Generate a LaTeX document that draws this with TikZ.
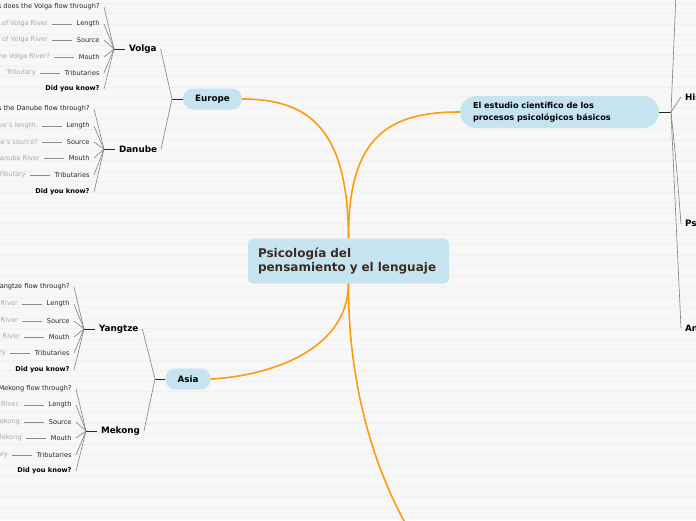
\documentclass[tikz,border=0pt]{standalone}
\usepackage{xcolor}
\usepackage{fontspec}
\setmainfont{DejaVu Sans}
\definecolor{pillblue}{HTML}{C5E4F0}
\definecolor{branchorange}{HTML}{FF9A0F}
\definecolor{paper}{HTML}{F7F7F7}
\definecolor{stripegray}{HTML}{F0F0F0}
\definecolor{titlebrown}{HTML}{3D2B1F}
\definecolor{notegray}{HTML}{A8A8A8}
\usepackage{tikz}
\usetikzlibrary{positioning}

\tikzset{
    mainnode/.style={fill=pillblue, rounded corners=5pt, text width=181pt, align=left,
        inner xsep=10pt, inner ysep=0pt, minimum height=45pt, text=titlebrown,
        font=\fontsize{12}{14}\selectfont\bfseries},
    topicnode/.style={fill=pillblue, rounded corners=10pt, inner xsep=12pt, inner ysep=0pt,
        minimum height=21pt, font=\fontsize{8.8}{10}\selectfont\bfseries},
    widetopic/.style={fill=pillblue, rounded corners=16pt, text width=173pt, align=left,
        inner xsep=13pt, inner ysep=0pt, minimum height=32pt,
        font=\fontsize{8.2}{11.5}\selectfont\bfseries},
    rivernode/.style={inner xsep=4pt, inner ysep=1pt, outer sep=0pt,
        font=\fontsize{8.8}{10}\selectfont\bfseries},
    leafnode/.style={inner xsep=4.5pt, inner ysep=1pt, outer sep=0pt, text=black!85,
        font=\fontsize{6.6}{8}\selectfont},
    dimnote/.style={leafnode, text=notegray},
    knownode/.style={leafnode, text=black, font=\fontsize{6.6}{8}\selectfont\bfseries},
    orangeline/.style={draw=branchorange, line width=1.6pt},
    fanline/.style={draw=black!50, line width=0.6pt},
    hubline/.style={draw=black!85, line width=0.9pt},
    noteline/.style={draw=black!45, line width=0.6pt},
    stripe/.style={draw=stripegray, line width=0.8pt}
}

\begin{document}
\begin{tikzpicture}[x=1pt, y=-1pt]
    \useasboundingbox (0, 0) rectangle (696, 520);
    \clip (0, 0) rectangle (696, 520);
    \fill[paper] (0, 0) rectangle (696, 520);
    \foreach \yy in {3, 13.5, ..., 520}
        \draw[stripe] (0, \yy) -- (696, \yy);

    % centre and main topics
    \node[mainnode] (main) at (348.5, 261) {Psicología del\\pensamiento y el lenguaje};
    \node[topicnode] (europe) at (212.5, 99) {Europe};
    \node[topicnode] (asia) at (188, 379) {Asia};
    \node[widetopic] (estudio) at (559.5, 112) {El estudio científico de los\\procesos psicológicos básicos};
    \coordinate (below) at (415, 540);

    \draw[orangeline] (main.north) .. controls (348, 130) and (310, 99) .. (europe.east);
    \draw[orangeline] (main.north) .. controls (348, 135) and (390, 112) .. (estudio.west);
    \draw[orangeline] (main.south) .. controls (348, 350) and (270, 376) .. (asia.east);
    \draw[orangeline] (main.south) .. controls (348, 380) and (372, 470) .. (below);

    % right side
    \coordinate (estudiohub) at (671, 112);
    \coordinate (uptop) at (677, -30);
    \node[rivernode, anchor=west] (historia) at (681, 97) {Historia};
    \node[rivernode, anchor=west] (psico) at (681, 224) {Psicología};
    \node[rivernode, anchor=west] (antec) at (681, 328) {Antecedentes};
    \draw[hubline] (estudio.east) -- (estudiohub);
    \draw[fanline] (estudiohub) -- (uptop);
    \draw[fanline] (estudiohub) -- (historia.west);
    \draw[fanline] (estudiohub) .. controls (676, 160) .. (psico.west);
    \draw[fanline] (estudiohub) -- (antec.west);

    % Europe
    \coordinate (europehub) at (172, 99);
    \coordinate (volgahub) at (114, 49);
    \coordinate (danubehub) at (104, 149);
    \node[rivernode, right=11pt of volgahub] (volga) {Volga};
    \node[rivernode, right=11pt of danubehub] (danube) {Danube};
    \draw[hubline] (europe.west) -- (europehub);
    \draw[fanline] (europehub) -- (volga.east);
    \draw[fanline] (europehub) -- (danube.east);
    \draw[hubline] (volgahub) -- (volga.west);
    \draw[hubline] (danubehub) -- (danube.west);

    \node[leafnode, anchor=east] (volgaq) at (104, 7) {Which countries does the Volga flow through?};
    \foreach \y/\lab/\txt [count=\k] in {24/Length/{Length of Volga River},
            40/Source/{Source of Volga River},
            57/Mouth/{Where is the mouth of the Volga River?},
            73/Tributaries/{Tributary}} {
        \node[leafnode, anchor=east] (volga\k) at (104, \y) {\lab};
        \node[dimnote, left=20pt of volga\k] (volgan\k) {\txt};
        \draw[noteline] (volga\k) -- (volgan\k);
    }
    \node[knownode, anchor=east] (volga5) at (104, 89) {Did you know?};
    \foreach \k in {q, 1, 2, 3, 4, 5}
        \draw[fanline] (volgahub) -- (volga\k.east);

    \node[leafnode, anchor=east] (danubeq) at (94, 109) {Which countries does the Danube flow through?};
    \foreach \y/\lab/\txt [count=\k] in {126/Length/{What is the Danube's length.},
            142/Source/{Where is the Danube's source?},
            158/Mouth/{Mouth of Danube River},
            175/Tributaries/{Tributary}} {
        \node[leafnode, anchor=east] (danube\k) at (94, \y) {\lab};
        \node[dimnote, left=20pt of danube\k] (danuben\k) {\txt};
        \draw[noteline] (danube\k) -- (danuben\k);
    }
    \node[knownode, anchor=east] (danube5) at (94, 192) {Did you know?};
    \foreach \k in {q, 1, 2, 3, 4, 5}
        \draw[fanline] (danubehub) -- (danube\k.east);

    % Asia
    \coordinate (asiahub) at (155, 379);
    \coordinate (yangtzehub) at (84, 329);
    \coordinate (mekonghub) at (86, 431);
    \node[rivernode, right=11pt of yangtzehub] (yangtze) {Yangtze};
    \node[rivernode, right=11pt of mekonghub] (mekong) {Mekong};
    \draw[hubline] (asia.west) -- (asiahub);
    \draw[fanline] (asiahub) -- (yangtze.east);
    \draw[fanline] (asiahub) -- (mekong.east);
    \draw[hubline] (yangtzehub) -- (yangtze.west);
    \draw[hubline] (mekonghub) -- (mekong.west);

    \node[leafnode, anchor=east] (yangtzeq) at (74, 287) {Which provinces does the Yangtze flow through?};
    \foreach \y/\lab/\txt [count=\k] in {304/Length/{Length of Yangtze River},
            321/Source/{Source of Yangtze River},
            337/Mouth/{Mouth of Yangtze River},
            353/Tributaries/{Tributary}} {
        \node[leafnode, anchor=east] (yangtze\k) at (74, \y) {\lab};
        \node[dimnote, left=20pt of yangtze\k] (yangtzen\k) {\txt};
        \draw[noteline] (yangtze\k) -- (yangtzen\k);
    }
    \node[knownode, anchor=east] (yangtze5) at (74, 370) {Did you know?};
    \foreach \k in {q, 1, 2, 3, 4, 5}
        \draw[fanline] (yangtzehub) -- (yangtze\k.east);

    \node[leafnode, anchor=east] (mekongq) at (76, 389) {Which countries does the Mekong flow through?};
    \foreach \y/\lab/\txt [count=\k] in {405/Length/{Length of Mekong River.},
            422/Source/{Source of Mekong},
            438/Mouth/{Mouth of Mekong},
            455/Tributaries/{Tributary}} {
        \node[leafnode, anchor=east] (mekong\k) at (76, \y) {\lab};
        \node[dimnote, left=20pt of mekong\k] (mekongn\k) {\txt};
        \draw[noteline] (mekong\k) -- (mekongn\k);
    }
    \node[knownode, anchor=east] (mekong5) at (76, 471) {Did you know?};
    \foreach \k in {q, 1, 2, 3, 4, 5}
        \draw[fanline] (mekonghub) -- (mekong\k.east);
\end{tikzpicture}
\end{document}
